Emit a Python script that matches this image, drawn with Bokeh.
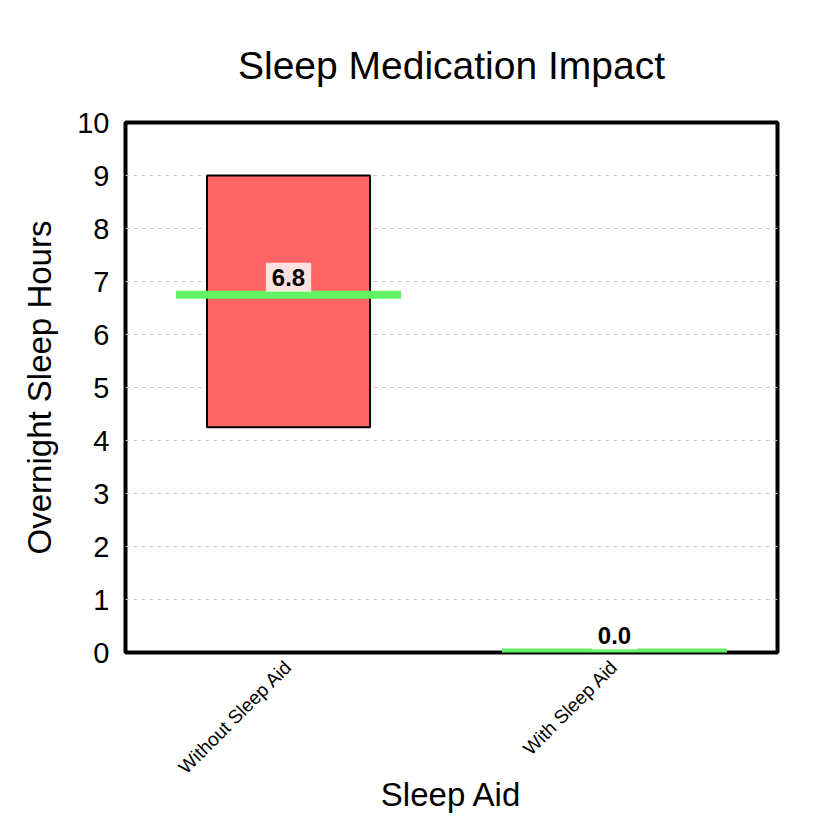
import math
from bokeh.plotting import figure
from bokeh.models import ColumnDataSource, FixedTicker
from bokeh.core.properties import value
from bokeh.embed import file_html
from bokeh.resources import INLINE

# ---- data ----
categories = ["Without Sleep Aid", "With Sleep Aid"]
lower_hours = [4.25, 0.0]
upper_hours = [9.0, 0.0]
median_hours = [6.75, 0.0]
y_ticks = [0, 1, 2, 3, 4, 5, 6, 7, 8, 9, 10]

FONT = "Liberation Sans"
RED = "#ff6464"
GREEN = "#62f262"

src = ColumnDataSource(dict(
    cat=categories,
    lower=lower_hours,
    upper=upper_hours,
    median=median_hours,
    label=[f"{v:.1f}" for v in median_hours],
))

p = figure(
    x_range=categories, y_range=(0, 10),
    width=820, height=820,
    output_backend="svg", toolbar_location=None,
    min_border_left=125, min_border_right=43,
    min_border_top=122, min_border_bottom=168,
    title="Sleep Medication Impact",
    x_axis_label="Sleep Aid", y_axis_label="Overnight Sleep Hours",
)

p.vbar(x="cat", bottom="lower", top="upper", width=0.5, source=src,
       fill_color=RED, line_color="black", line_width=2)
p.rect(x="cat", y="median", width=0.69, height=8, height_units="screen",
       source=src, fill_color=GREEN, line_color=None)

p.text(x="cat", y="median", text="label", source=src,
       text_align="center", text_baseline="bottom", y_offset=-3,
       text_font=value(FONT), text_font_size="24px", text_font_style="bold",
       text_color="black",
       background_fill_color="white", background_fill_alpha=0.8,
       padding=6)

# title
p.title.text_font = FONT
p.title.text_font_size = "39px"
p.title.text_font_style = "normal"
p.title.text_color = "black"
p.title.align = "center"
p.title.standoff = 72

# axes
p.yaxis.ticker = FixedTicker(ticks=y_ticks)
for ax in (p.xaxis, p.yaxis):
    ax.axis_line_color = None
    ax.major_tick_line_color = None
    ax.minor_tick_line_color = None
    ax.major_tick_out = 0
    ax.major_tick_in = 0
    ax.axis_label_text_font = FONT
    ax.axis_label_text_font_style = "normal"
    ax.axis_label_text_font_size = "33px"
    ax.axis_label_text_color = "black"
    ax.major_label_text_font = FONT
    ax.major_label_text_color = "black"

p.yaxis.major_label_text_font_size = "29px"
p.yaxis.major_label_standoff = 16
p.yaxis.axis_label_standoff = 16
p.xaxis.major_label_text_font_size = "19px"
p.xaxis.major_label_orientation = math.pi / 4
p.xaxis.major_label_standoff = 11
p.xaxis.axis_label_standoff = -12

# grid
p.xgrid.grid_line_color = None
p.ygrid.grid_line_color = "#c8c8c8"
p.ygrid.grid_line_dash = "4 4"
p.ygrid.grid_line_width = 1

p.outline_line_color = "black"
p.outline_line_width = 4
p.background_fill_color = "white"
p.border_fill_color = "white"

open("out.html", "w").write(file_html(p, INLINE))
